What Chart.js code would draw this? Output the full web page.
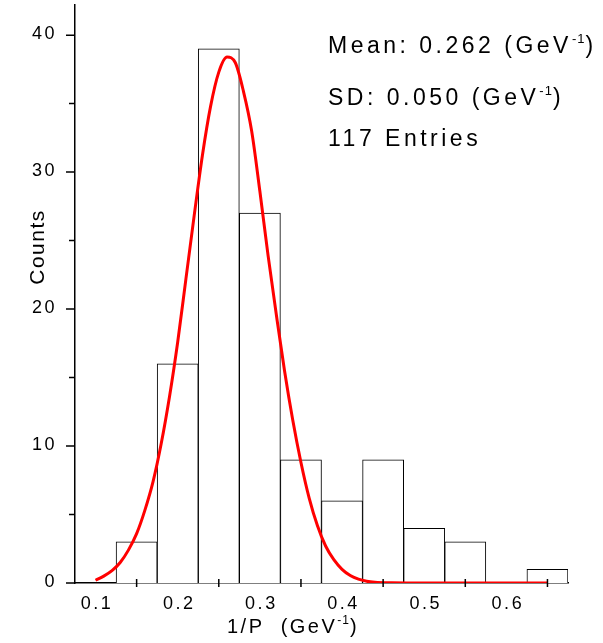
<html>
  <head>
    <title>1/P histogram</title>
    <script src="https://cdn.jsdelivr.net/npm/chart.js@4.4.1/dist/chart.umd.min.js"></script>
    <style>
      body { margin: 0; background: #fff; }
    </style>
  </head>
  <body>
    <canvas id="HistChart" width="603" height="643"></canvas>
    <script>
      // histogram bins (centres, width 0.05) and counts
      const binCenters = [0.15, 0.20, 0.25, 0.30, 0.35, 0.40, 0.45, 0.50, 0.55, 0.60, 0.65];
      const counts = [3, 16, 39, 27, 9, 6, 9, 4, 3, 0, 1];

      // gaussian fit curve
      const fitX = [0.10, 0.11, 0.12, 0.13, 0.14, 0.15, 0.16, 0.17, 0.18, 0.19, 0.20, 0.21, 0.22, 0.23, 0.24,
                    0.25, 0.26, 0.27, 0.28, 0.29, 0.30, 0.31, 0.32, 0.33, 0.34, 0.35, 0.36, 0.37, 0.38, 0.39,
                    0.40, 0.41, 0.42, 0.43, 0.44, 0.46, 0.50, 0.55, 0.60, 0.65];
      const fitY = [0.2, 0.5, 0.9, 1.5, 2.4, 3.6, 5.3, 7.4, 10.2, 13.6, 17.6, 22.2, 26.8, 31.2, 34.8,
                    37.3, 38.4, 38.0, 35.9, 33.0, 28.6, 23.9, 19.6, 15.5, 11.9, 8.8, 6.2, 4.2, 2.7, 1.7,
                    1.0, 0.55, 0.28, 0.13, 0.06, 0.02, 0, 0, 0, 0];

      const xLabels = [0.1, 0.2, 0.3, 0.4, 0.5, 0.6];
      const xMinorTicks = [0.15, 0.25, 0.35, 0.45, 0.55, 0.65];
      const yLabels = [0, 10, 20, 30, 40];
      const yMinorTicks = [5, 15, 25, 35];

      const FONT = 'Arial, "Liberation Sans", sans-serif';

      // draws text made of runs (normal + superscript) with letter spacing
      function drawRuns(ctx, x, y, runs) {
        runs.forEach(function(r) {
          ctx.font = r.size + 'px ' + FONT;
          ctx.letterSpacing = (r.sp || 0) + 'px';
          ctx.fillText(r.t, x, y + (r.dy || 0));
          x += ctx.measureText(r.t).width;
        });
      }

      const axisDecor = {
        id: 'axisDecor',
        afterDraw: function(chart) {
          const ctx = chart.ctx;
          const xs = chart.scales.x, ys = chart.scales.y;
          const x0 = chart.chartArea.left, y0 = chart.chartArea.bottom;
          ctx.save();
          ctx.strokeStyle = '#000';
          ctx.lineWidth = 1.5;
          ctx.beginPath();
          yLabels.forEach(function(v) {
            const py = ys.getPixelForValue(v);
            ctx.moveTo(x0 - 9, py); ctx.lineTo(x0, py);
          });
          yMinorTicks.forEach(function(v) {
            const py = ys.getPixelForValue(v);
            ctx.moveTo(x0 - 6, py); ctx.lineTo(x0, py);
          });
          xMinorTicks.forEach(function(v) {
            const px = xs.getPixelForValue(v);
            ctx.moveTo(px, y0 - 4); ctx.lineTo(px, y0 + 4);
          });
          ctx.stroke();

          ctx.fillStyle = '#000';
          ctx.font = '18px ' + FONT;
          ctx.letterSpacing = '2.5px';
          ctx.textBaseline = 'middle';
          ctx.textAlign = 'right';
          yLabels.forEach(function(v) {
            ctx.fillText(String(v), 57, ys.getPixelForValue(v) - 1);
          });
          ctx.textAlign = 'center';
          xLabels.forEach(function(v) {
            ctx.fillText(v.toFixed(1), xs.getPixelForValue(v) + 1.5, 604);
          });

          // axis titles
          ctx.textAlign = 'left';
          ctx.textBaseline = 'alphabetic';
          drawRuns(ctx, 227, 633, [
            {t: '1/P  (GeV', size: 20, sp: 2.5},
            {t: '-1', size: 12, sp: 1, dy: -9},
            {t: ')', size: 20, sp: 2.5}
          ]);
          ctx.save();
          ctx.translate(44, 247);
          ctx.rotate(-Math.PI / 2);
          ctx.textAlign = 'center';
          ctx.font = '21px ' + FONT;
          ctx.letterSpacing = '1.5px';
          ctx.fillText('Counts', 0, 0);
          ctx.restore();

          // statistics box
          ctx.textAlign = 'left';
          drawRuns(ctx, 328, 53, [
            {t: 'Mean: 0.262 (GeV', size: 23, sp: 3.5},
            {t: '-1', size: 13, sp: 1, dy: -10},
            {t: ')', size: 23, sp: 3.5}
          ]);
          drawRuns(ctx, 328, 105, [
            {t: 'SD: 0.050 (GeV', size: 23, sp: 3.5},
            {t: '-1', size: 13, sp: 1, dy: -10},
            {t: ')', size: 23, sp: 3.5}
          ]);
          drawRuns(ctx, 328, 146, [
            {t: '117 Entries', size: 23, sp: 3.5}
          ]);
          ctx.restore();
        }
      };

      const ctx = document.getElementById('HistChart').getContext('2d');
      const chart = new Chart(ctx, {
        type: 'bar',
        data: {
          datasets: [{
              type: 'line',
              label: 'Gauss fit',
              data: fitX.map(function(x, i) { return {x: x, y: fitY[i]}; }),
              borderColor: '#ff0000',
              borderWidth: 3,
              pointRadius: 0,
              fill: false,
              cubicInterpolationMode: 'monotone',
              order: 0
            },
            {
              type: 'bar',
              label: 'Counts',
              data: binCenters.map(function(x, i) { return {x: x, y: counts[i]}; }),
              backgroundColor: '#ffffff',
              borderColor: '#000000',
              borderWidth: 1,
              borderSkipped: 'start',
              barPercentage: 1,
              categoryPercentage: 1,
              order: 1
            }
          ]
        },
        options: {
          responsive: false,
          animation: false,
          layout: { padding: { top: 5, right: 35, bottom: 0, left: 0 } },
          plugins: {
            legend: { display: false },
            tooltip: { enabled: false }
          },
          scales: {
            x: {
              type: 'linear',
              offset: false,
              min: 0.075,
              max: 0.675,
              grid: { display: false, drawTicks: false },
              border: { display: true, color: '#000', width: 1.5 },
              ticks: { display: false },
              afterFit: function(s) { s.height = 60; }
            },
            y: {
              min: 0,
              max: 42.2,
              grid: { display: false, drawTicks: false },
              border: { display: true, color: '#000', width: 1.5 },
              ticks: { display: false },
              afterFit: function(s) { s.width = 75; }
            }
          }
        },
        plugins: [axisDecor]
      });
    </script>
  </body>
</html>
